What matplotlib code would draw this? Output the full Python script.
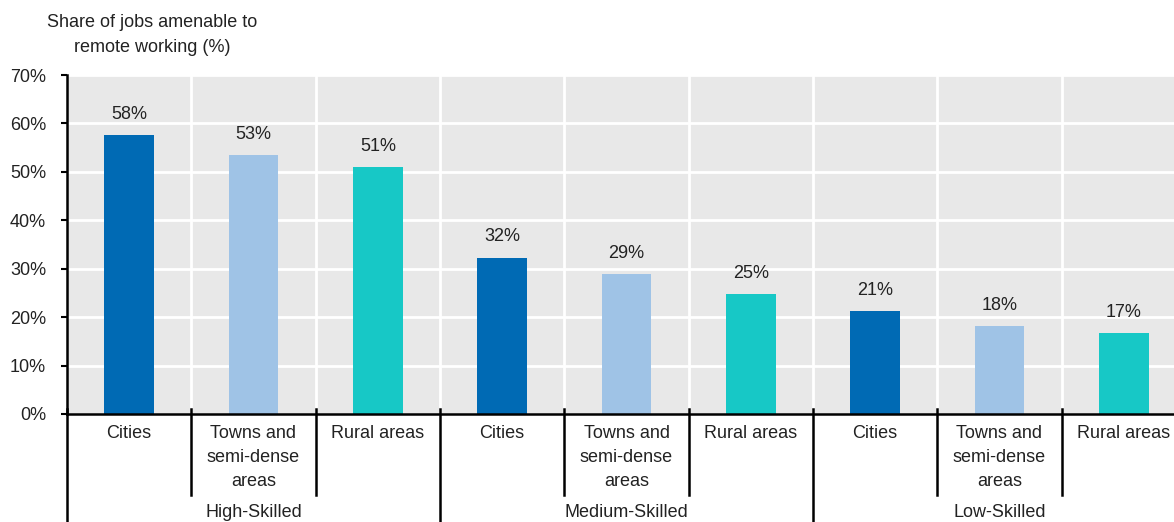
import matplotlib
matplotlib.use("Agg")
import matplotlib.pyplot as plt

plt.rcParams['font.family'] = ['Liberation Sans', 'DejaVu Sans']

# Data
groups = ["High-Skilled", "Medium-Skilled", "Low-Skilled"]
areas = ["Cities", "Towns and\nsemi-dense\nareas", "Rural areas"]
high_skilled = [57.6, 53.4, 50.9]
medium_skilled = [32.3, 28.9, 24.7]
low_skilled = [21.2, 18.1, 16.7]
area_colors = ["#006AB4", "#9FC3E6", "#17C8C6"]
y_ticks = [0, 10, 20, 30, 40, 50, 60, 70]

values = high_skilled + medium_skilled + low_skilled
n = len(values)
xs = list(range(n))
colors = area_colors * len(groups)
text_color = "#222222"

fig = plt.figure(figsize=(11.74, 5.22), dpi=100)
ax = fig.add_axes([67 / 1174, 108 / 522, 1119 / 1174, 339 / 522])
ax.set_facecolor("#E8E8E8")

ax.bar(xs, values, width=0.4, color=colors, zorder=3)

for x, v in zip(xs, values):
    ax.annotate(f"{v:.0f}%", xy=(x, v), xytext=(0, 9), textcoords="offset points",
                ha="center", va="bottom", fontsize=13, color=text_color, zorder=4)

ax.set_xlim(-0.5, n - 0.5)
ax.set_ylim(0, 70)
ax.set_yticks(y_ticks)
ax.set_yticklabels([f"{t}%" for t in y_ticks], fontsize=13, color=text_color)
ax.tick_params(axis="y", direction="out", length=4, width=1.5, pad=11, color="black")
ax.set_xticks([])

# white grid lines
for t in y_ticks[1:]:
    ax.axhline(t, color="white", lw=2, zorder=1)
for b in range(1, n):
    ax.axvline(b - 0.5, color="white", lw=2, zorder=1)

for s in ["top", "right"]:
    ax.spines[s].set_visible(False)
ax.spines["left"].set_linewidth(1.8)
ax.spines["bottom"].set_linewidth(1.8)
ax.spines["left"].set_zorder(5)
ax.spines["bottom"].set_zorder(5)

trans = ax.get_xaxis_transform()
px = 1 / 339.0

# category separators and group separators below the axis
for b in range(0, n + 1):
    xb = b - 0.5
    if b % 3 == 0:
        ax.plot([xb, xb], [5 * px, -130 * px], transform=trans, color="black",
                lw=1.8, clip_on=False, zorder=5)
    else:
        ax.plot([xb, xb], [5 * px, -81 * px], transform=trans, color="black",
                lw=1.8, clip_on=False, zorder=5)

# category labels
for x in xs:
    ax.annotate(areas[x % 3], xy=(x, 0), xycoords=trans, xytext=(0, -8),
                textcoords="offset points", ha="center", va="top", fontsize=13,
                color=text_color, linespacing=1.55)

# group labels
for g, name in enumerate(groups):
    ax.annotate(name, xy=(3 * g + 1, 0), xycoords=trans, xytext=(0, -65),
                textcoords="offset points", ha="center", va="top", fontsize=13,
                color=text_color)

fig.text(152 / 1174, 1 - 35 / 522, "Share of jobs amenable to\nremote working (%)",
         ha="center", va="center", fontsize=13, color=text_color, linespacing=1.6)

fig.savefig("out.png", dpi=100)
